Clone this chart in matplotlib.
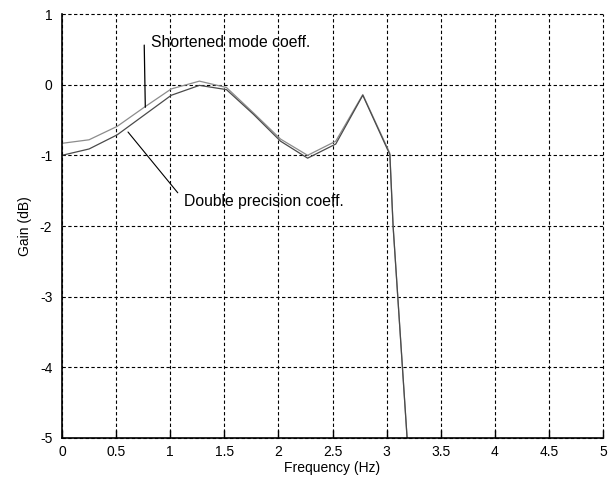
import matplotlib
matplotlib.use("Agg")
import matplotlib.pyplot as plt

plt.rcParams['font.family'] = ['Liberation Sans', 'DejaVu Sans']
plt.rcParams['axes.unicode_minus'] = False

# Filter gain responses (dB) versus frequency (Hz)
freq = [0.0, 0.25, 0.51, 0.76, 1.01, 1.27, 1.52, 1.77, 2.02, 2.27, 2.53, 2.78, 3.03, 3.06, 3.28]
gain_shortened = [-0.83, -0.78, -0.59, -0.32, -0.06, 0.05, -0.04, -0.40, -0.77, -1.00, -0.80, -0.14, -0.97, -2.0, -7.1]
gain_double = [-1.00, -0.91, -0.71, -0.43, -0.15, -0.01, -0.07, -0.42, -0.80, -1.04, -0.84, -0.15, -0.99, -2.0, -7.1]

xticks = [0, 0.5, 1, 1.5, 2, 2.5, 3, 3.5, 4, 4.5, 5]
xtick_labels = ['0', '0.5', '1', '1.5', '2', '2.5', '3', '3.5', '4', '4.5', '5']
yticks = [-5, -4, -3, -2, -1, 0, 1]
ytick_labels = ['-5', '-4', '-3', '-2', '-1', '0', '1']

fig = plt.figure(figsize=(6.14, 4.83), dpi=100)
ax = fig.add_axes([62 / 614, 1 - 438 / 483, 541 / 614, 424 / 483])

ax.plot(freq, gain_shortened, color='#8c8c8c', lw=0.9)
ax.plot(freq, gain_double, color='#4a4a4a', lw=0.9)

ax.set_xlim(0, 5)
ax.set_ylim(-5, 1)
ax.set_xticks(xticks)
ax.set_xticklabels(xtick_labels)
ax.set_yticks(yticks)
ax.set_yticklabels(ytick_labels)
ax.tick_params(axis='x', direction='in', length=6, width=1, pad=5, labelsize=10)
ax.tick_params(axis='y', direction='in', length=0, pad=7, labelsize=10)

ax.grid(True, color='black', lw=0.8, linestyle=(0, (3.0, 2.2)))
for gl in ax.get_xgridlines() + ax.get_ygridlines():
    gl.set_clip_on(False)

ax.spines['top'].set_visible(False)
ax.spines['right'].set_visible(False)
ax.spines['left'].set_linewidth(1.2)
ax.spines['bottom'].set_linewidth(1.2)

ax.set_xlabel('Frequency (Hz)', fontsize=10, va='center')
ax.xaxis.set_label_coords(0.5, (438 - 468) / 424)
ax.set_ylabel('Gain (dB)', fontsize=10, va='center')
ax.yaxis.set_label_coords((25 - 62) / 541, 0.5)

# Leader lines and labels for the two curves
ax.annotate('', xy=(0.77, -0.32), xytext=(0.76, 0.56),
            arrowprops=dict(arrowstyle='-', color='black', lw=0.9,
                            shrinkA=0, shrinkB=0))
ax.text(0.82, 0.60, 'Shortened mode coeff.', fontsize=11.3,
        ha='left', va='center')

ax.annotate('', xy=(0.61, -0.67), xytext=(1.07, -1.53),
            arrowprops=dict(arrowstyle='-', color='black', lw=0.8,
                            shrinkA=0, shrinkB=0))
ax.text(1.13, -1.66, 'Double precision coeff.', fontsize=11.3,
        ha='left', va='center')

fig.savefig('out.png', dpi=100)
